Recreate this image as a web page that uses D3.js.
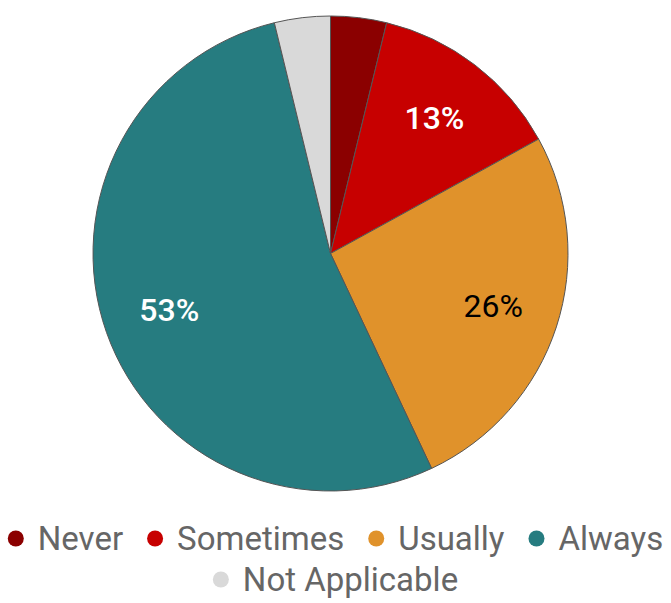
<!DOCTYPE html>
<html>
<head>
<meta charset="utf-8">
<script src="https://cdn.jsdelivr.net/npm/d3@7"></script>
<style>
  html, body { margin: 0; padding: 0; background: #fff; }
  svg { display: block; }
</style>
</head>
<body>
<svg id="chart" width="671" height="603"></svg>
<script>
// Survey response shares
const categories = ["Never", "Sometimes", "Usually", "Always", "Not Applicable"];
const values = [3.8, 13.2, 26, 53.2, 3.8];
const colors = ["#8b0000", "#c70000", "#e0922b", "#267c80", "#d9d9d9"];
const labelColors = ["#fff", "#fff", "#000", "#fff", "#000"];

const svg = d3.select("#chart");
const cx = 330.5, cy = 253.5, R = 237.5;

const pie = d3.pie().sort(null).value(d => d.value);
const data = categories.map((c, i) => ({ name: c, value: values[i], color: colors[i], lc: labelColors[i] }));
const arcs = pie(data);

const arc = d3.arc().innerRadius(0).outerRadius(R);
const labelArc = d3.arc().innerRadius(R * 0.72).outerRadius(R * 0.72);

const g = svg.append("g").attr("transform", `translate(${cx},${cy})`);

g.selectAll("path.slice")
  .data(arcs)
  .join("path")
  .attr("class", "slice")
  .attr("d", arc)
  .attr("fill", d => d.data.color)
  .attr("stroke", "#555")
  .attr("stroke-width", 1);

// Percent labels for slices large enough to hold text
g.selectAll("text.pct")
  .data(arcs.filter(d => d.data.value >= 10))
  .join("text")
  .attr("class", "pct")
  .attr("transform", d => `translate(${labelArc.centroid(d)})`)
  .attr("text-anchor", "middle")
  .attr("dominant-baseline", "central")
  .attr("font-family", "Roboto, sans-serif")
  .attr("font-weight", d => d.data.lc === "#fff" ? 500 : 400)
  .attr("font-size", 32)
  .attr("fill", d => d.data.lc)
  .text(d => Math.round(d.data.value) + "%");

// Legend: two centered rows
const rows = [categories.slice(0, 4), categories.slice(4)];
const rowBase = [550, 591];
const fontSize = 33;
const dotR = 8, textGap = 22, itemGap = 32;
rows.forEach((row, ri) => {
  const lg = svg.append("g");
  let x = 0;
  row.forEach((name, k) => {
    const i = categories.indexOf(name);
    if (k > 0) x += itemGap;
    const item = lg.append("g").attr("transform", `translate(${x},0)`);
    item.append("circle").attr("cx", 0).attr("cy", -11.5).attr("r", dotR).attr("fill", colors[i]);
    const t = item.append("text")
      .attr("x", textGap)
      .attr("y", 0)
      .attr("font-family", "Roboto, sans-serif")
      .attr("font-size", fontSize)
      .attr("fill", "#666")
      .text(name);
    const w = t.node().getComputedTextLength();
    x += textGap + w;
  });
  const total = x + dotR;
  lg.attr("transform", `translate(${(671 - total) / 2 + dotR},${rowBase[ri]})`);
});
</script>
</body>
</html>
